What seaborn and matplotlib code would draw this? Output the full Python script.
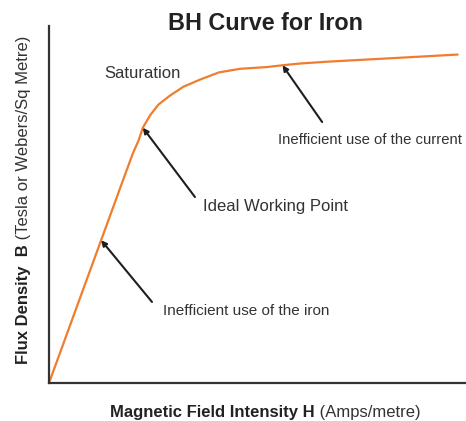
import matplotlib
matplotlib.use("Agg")
import matplotlib.pyplot as plt
import seaborn as sns

# BH curve (H in A/m, B in tesla)
field_h = [0, 250, 400, 430, 450, 485, 525, 580, 645, 725, 815, 915,
           1045, 1120, 1205, 1335, 1650, 1960]
flux_b = [0, 0.80, 1.28, 1.36, 1.43, 1.50, 1.56, 1.61, 1.66, 1.70, 1.74, 1.76,
          1.77, 1.78, 1.79, 1.80, 1.82, 1.84]

# which curve point each arrow points to
IDX_IRON = 1
IDX_IDEAL = 4
IDX_CURRENT = 13

LINE_COLOR = "#F07D2E"
INK = "#1e1e1e"

sns.set_style("white")
plt.rcParams["font.family"] = ["Liberation Sans", "DejaVu Sans"]

fig = plt.figure(figsize=(4.66, 4.21), dpi=100)
ax = fig.add_axes([49 / 466, 38 / 421, 417 / 466, 357 / 421])

sns.lineplot(x=field_h, y=flux_b, ax=ax, color=LINE_COLOR, linewidth=1.6)

ax.set_xlim(0, 2000)
ax.set_ylim(0, 2.0)
ax.set_xticks([])
ax.set_yticks([])
ax.set_xlabel("")
ax.set_ylabel("")
for side in ["top", "right"]:
    ax.spines[side].set_visible(False)
for side in ["left", "bottom"]:
    ax.spines[side].set_color("#333333")
    ax.spines[side].set_linewidth(1.6)

arrow = dict(arrowstyle="-|>", color=INK, lw=1.5, mutation_scale=8,
             shrinkA=0, shrinkB=0)

# arrows: from a tail spot (axes fraction) to a point on the curve
ax.annotate("", xy=(field_h[IDX_IRON], flux_b[IDX_IRON]), xycoords="data",
            xytext=(0.247, 0.227), textcoords="axes fraction", arrowprops=arrow)
ax.annotate("", xy=(field_h[IDX_IDEAL], flux_b[IDX_IDEAL]), xycoords="data",
            xytext=(0.350, 0.521), textcoords="axes fraction", arrowprops=arrow)
ax.annotate("", xy=(field_h[IDX_CURRENT], flux_b[IDX_CURRENT]), xycoords="data",
            xytext=(0.655, 0.731), textcoords="axes fraction", arrowprops=arrow)

ax.text(0.273, 0.202, "Inefficient use of the iron", transform=ax.transAxes,
        ha="left", va="center", fontsize=11, color="#333333")
ax.text(0.369, 0.494, "Ideal Working Point", transform=ax.transAxes,
        ha="left", va="center", fontsize=12, color="#333333")
ax.text(0.549, 0.680, "Inefficient use of the current", transform=ax.transAxes,
        ha="left", va="center", fontsize=10.7, color="#333333", clip_on=False)
ax.text(0.132, 0.868, "Saturation", transform=ax.transAxes,
        ha="left", va="center", fontsize=12, color="#333333")

# title
fig.text(265 / 466, 1 - 24 / 421, "BH Curve for Iron", ha="center", va="center",
         fontsize=16.8, fontweight="bold", color="#222222")

# x label: bold part + regular part
xl = fig.text(110 / 466, 1 - 420 / 421, "Magnetic Field Intensity H",
              ha="left", va="bottom", fontsize=12, fontweight="bold", color="#222222")
ax.annotate(" (Amps/metre)", xy=(1, 0), xycoords=xl, annotation_clip=False,
            ha="left", va="bottom", fontsize=12, color="#333333")

# y label: bold part + regular part, rotated
yl = fig.text(24 / 466, 1 - 364 / 421, "Flux Density  B", rotation=90,
              ha="center", va="bottom", fontsize=12, fontweight="bold", color="#222222")
ax.annotate(" (Tesla or Webers/Sq Metre)", xy=(0.5, 1), xycoords=yl, annotation_clip=False,
            rotation=90, ha="center", va="bottom", fontsize=12, color="#333333")

fig.savefig("out.png", dpi=100)
